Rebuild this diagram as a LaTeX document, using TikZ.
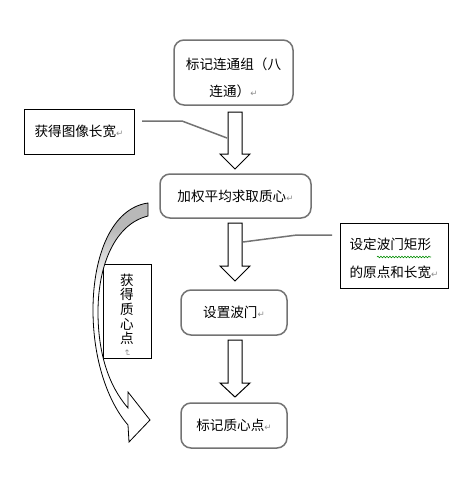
\documentclass[tikz,border=0pt]{standalone}
\usepackage{fontspec}
\setmainfont{Noto Sans CJK SC}
\newfontfamily\symf{DejaVu Sans}
\usetikzlibrary{decorations.pathmorphing}
\newdimen\pxu \pxu=0.75pt
\newcommand{\pmark}{{\symf\fontsize{6.5pt}{6.5pt}\selectfont\textcolor{black!45}{↵}}}
\newcommand{\blockarr}[3]{%
  \draw[blockarrow] (228,#1) -- (242,#1) -- (242,#2) -- (250,#2) -- (235,#3)
    -- (220,#2) -- (228,#2) -- cycle;}
\pgfdeclareverticalshading{curvefade}{100bp}{color(0bp)=(white); color(57bp)=(white);
  color(70bp)=(black!28); color(100bp)=(black!28)}
\begin{document}
\begin{tikzpicture}[x=0.75pt,y=-0.75pt,
  rbox/.style={draw=black!55, line width=1.5\pxu, rounded corners=10\pxu, inner sep=0pt,
    font=\fontsize{10.2pt}{21pt}\selectfont, align=center},
  sbox/.style={draw=black, line width=1\pxu, inner sep=0pt,
    font=\fontsize{10.2pt}{20pt}\selectfont, align=left},
  boxtext/.style={inner sep=0pt, font=\fontsize{10.2pt}{20.5pt}\selectfont},
  blockarrow/.style={draw=black, line width=1\pxu, fill=white},
  link/.style={draw=black!55, line width=1.5\pxu}]
\useasboundingbox (0,0) rectangle (474,483);

% main boxes
\node[rbox, minimum width=119\pxu, minimum height=65\pxu] (b1) at (233.5,72.5) {};
\node[boxtext, align=center] (b1t) at ([yshift=-5\pxu]b1.center)
  {标记连通组（八\\连通）\pmark};
\node[rbox, minimum width=151\pxu, minimum height=44\pxu] (b2) at (235.5,196)
  {加权平均求取质心\pmark};
\node[rbox, minimum width=106\pxu, minimum height=45\pxu] (b3) at (234,312.5)
  {设置波门\pmark};
\node[rbox, minimum width=106\pxu, minimum height=45\pxu] (b4) at (234,425.5)
  {标记质心点\pmark};

% side boxes
\node[sbox, minimum width=110\pxu, minimum height=45\pxu] (size) at (79,131.5)
  {获得图像长宽\pmark};
\node[sbox, minimum width=108\pxu, minimum height=65\pxu] (gate) at (394,255.5) {};
\node[boxtext, align=left] (gatet) at ([yshift=-3\pxu]gate.center)
  {设定波门矩形\\的原点和长宽\pmark};
\node[sbox, minimum width=48\pxu, minimum height=94\pxu] (cent) at (127,311) {};
\node[inner sep=0pt, align=center, font=\fontsize{10.2pt}{11pt}\selectfont]
  (centt) at ([yshift=-4\pxu]cent.center)
  {获\\得\\质\\心\\点\\[-7pt]\rotatebox{-90}{\pmark}};

% spell-check wavy underline
\draw[green!55!black, line width=0.6\pxu, decorate,
  decoration={snake, amplitude=0.8\pxu, segment length=3\pxu}]
  (377,257) -- (431,257);

% block arrows
\blockarr{112}{154}{169}
\blockarr{223}{266}{281}
\blockarr{340}{383}{397}

% callout connectors
\coordinate (s1) at (142,121);
\coordinate (a1w) at (227,138);
\draw[link] (s1) -- (182,121) -- (a1w);
\coordinate (a2e) at (243,242);
\coordinate (g1) at (332,235);
\draw[link] (a2e) -- (297,235) -- (g1);

% curved arrow
\path[draw=black, line width=0.8\pxu, shading=curvefade]
  (148,203) .. controls (112,208) and (93,255) .. (93,310)
  .. controls (93,360) and (108,402) .. (128,425)
  -- (129,442) -- (150,420) -- (128,392) -- (128,408)
  .. controls (108,385) and (98,352) .. (98,312)
  .. controls (98,265) and (115,224) .. (148,216) -- cycle;
\end{tikzpicture}
\end{document}
